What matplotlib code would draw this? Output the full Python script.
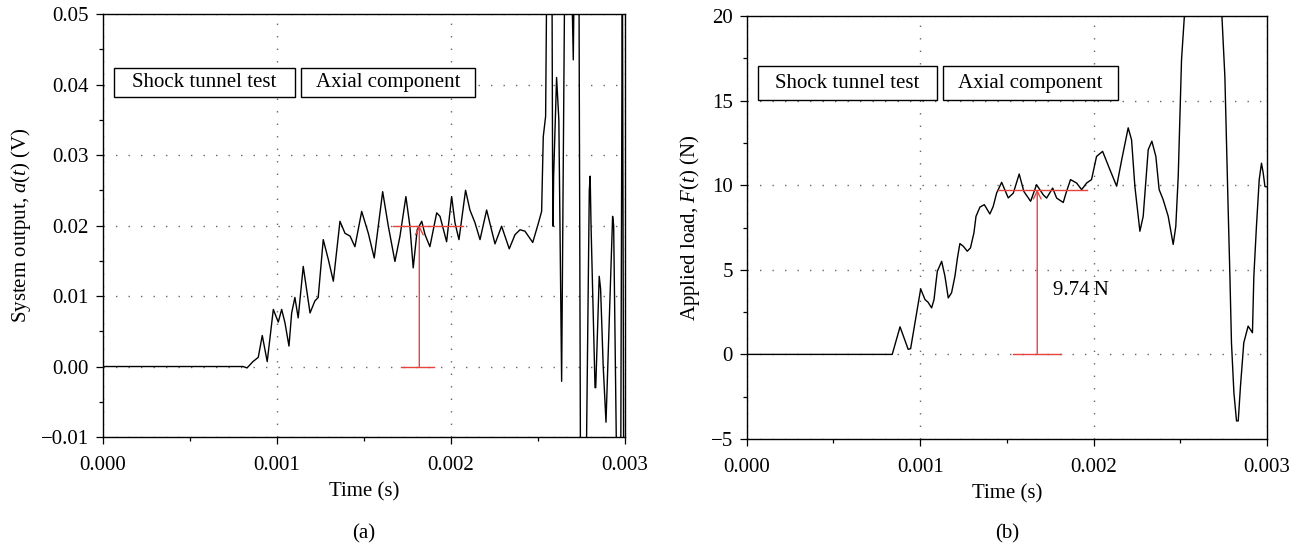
import matplotlib
matplotlib.use('Agg')
import matplotlib.pyplot as plt
from matplotlib.patches import Rectangle
from matplotlib.ticker import MultipleLocator, FuncFormatter

# time in ms (converted to s when drawn)
left_t = [0, 0.805, 0.828, 0.862, 0.8925, 0.9155, 0.944, 0.979, 1.0075, 1.027,
          1.046, 1.069, 1.0845, 1.103, 1.122, 1.151, 1.190, 1.218, 1.237, 1.266,
          1.295, 1.324, 1.362, 1.391, 1.42, 1.448, 1.487, 1.525, 1.559, 1.6075,
          1.640, 1.678, 1.707, 1.741, 1.764, 1.783, 1.806, 1.832, 1.851, 1.879,
          1.918, 1.937, 1.975, 2.004, 2.023, 2.046, 2.084, 2.109, 2.138, 2.167,
          2.205, 2.253, 2.291, 2.335, 2.368, 2.397, 2.425, 2.47, 2.502, 2.521,
          2.5305, 2.544, 2.552, 2.580, 2.584, 2.587, 2.59, 2.607, 2.62, 2.636,
          2.655, 2.69, 2.703, 2.71, 2.735, 2.745, 2.775, 2.795, 2.80, 2.805,
          2.828, 2.832, 2.852, 2.86, 2.875, 2.891, 2.929, 2.935, 2.955, 2.975,
          2.985, 2.993, 3.0]
left_v = [0, 0, -0.0002, 0.0007, 0.0013, 0.0044, 0.0007, 0.0081, 0.0063, 0.0081,
          0.0062, 0.0029, 0.0076, 0.0098, 0.0069, 0.0142, 0.0076, 0.0093, 0.0098, 0.018,
          0.0152, 0.0121, 0.0206, 0.0189, 0.0185, 0.017, 0.022, 0.0189, 0.0154, 0.0248,
          0.0199, 0.0149, 0.0185, 0.0241, 0.0199, 0.014, 0.0194, 0.0206, 0.0187, 0.017,
          0.0218, 0.0213, 0.0177, 0.0241, 0.0204, 0.018, 0.025, 0.0222, 0.0204, 0.018,
          0.0222, 0.0174, 0.0199, 0.0167, 0.0187, 0.0194, 0.0192, 0.0176, 0.0203, 0.022,
          0.0326, 0.0355, 0.06, 0.06, 0.028, 0.0199, 0.027, 0.041, 0.035, -0.0021,
          0.06, 0.06, 0.0435, 0.06, 0.06, -0.02, -0.02, 0.025, 0.027, 0.02,
          -0.003, -0.003, 0.0128, 0.011, 0.0, -0.0079, 0.0213, 0.02, -0.02, -0.02,
          0.06, -0.02, -0.02]

right_t = [0, 0.839, 0.884, 0.931, 0.945, 1.003, 1.028, 1.045, 1.066, 1.08,
           1.091, 1.099, 1.124, 1.143, 1.162, 1.181, 1.2005, 1.215, 1.229, 1.249,
           1.2715, 1.29, 1.31, 1.322, 1.345, 1.37, 1.402, 1.421, 1.441, 1.47,
           1.508, 1.537, 1.571, 1.598, 1.637, 1.671, 1.71, 1.729, 1.764, 1.787,
           1.825, 1.844, 1.867, 1.902, 1.931, 1.96, 1.988, 2.017, 2.052, 2.094,
           2.133, 2.162, 2.1995, 2.219, 2.238, 2.267, 2.286, 2.315, 2.336, 2.359,
           2.378, 2.401, 2.43, 2.459, 2.474, 2.488, 2.507, 2.526, 2.56, 2.63,
           2.70, 2.738, 2.757, 2.776, 2.786, 2.795, 2.809, 2.824, 2.834, 2.847,
           2.866, 2.891, 2.916, 2.924, 2.939, 2.955, 2.968, 2.978, 2.988, 3.0]
right_F = [0, 0, 1.63, 0.3, 0.34, 3.87, 3.24, 3.09, 2.75, 3.24,
           4.23, 4.91, 5.5, 4.62, 3.34, 3.64, 4.62, 5.7, 6.55, 6.39,
           6.1, 6.29, 7.18, 8.16, 8.71, 8.85, 8.3, 8.74, 9.54, 10.17,
           9.25, 9.53, 10.66, 9.63, 9.05, 10.03, 9.43, 9.24, 9.83, 9.24,
           8.98, 9.63, 10.33, 10.13, 9.74, 10.13, 10.33, 11.7, 12.0, 10.92,
           9.94, 11.5, 13.39, 12.68, 9.93, 7.28, 8.16, 12.1, 12.6, 11.7,
           9.74, 9.15, 8.17, 6.5, 7.57, 10.53, 17.4, 20.4, 26, 30,
           26, 20.4, 16.4, 8.55, 4.62, 0.69, -2.26, -3.93, -3.93, -1.87,
           0.69, 1.67, 1.28, 4.62, 7.57, 10.33, 11.3, 10.72, 9.92, 9.9]

# red marker: (t of arrow, level, top bar from/to, bottom bar from/to) in ms
left_mark = [1.818, 0.020, 1.667, 2.07, 1.712, 1.904]
right_mark = [1.675, 9.74, 1.45, 1.96, 1.537, 1.81]
box_labels = ['Shock tunnel test', 'Axial component']
xtick_vals = [0.0, 0.001, 0.002, 0.003]
xtick_labels = ['0.000', '0.001', '0.002', '0.003']

RED = '#e8423e'

plt.rcParams['font.family'] = ['Liberation Serif', 'DejaVu Serif']
plt.rcParams['font.size'] = 15
plt.rcParams['mathtext.fontset'] = 'custom'
plt.rcParams['mathtext.rm'] = 'Liberation Serif'
plt.rcParams['mathtext.it'] = 'Liberation Serif:italic'


def minus(fmt):
    return FuncFormatter(lambda v, p: (fmt % v).replace('-', '\u2212'))


def setupAxes(ax, ylim, ymajor, yminor, yfmt):
    ax.set_xlim(0, 0.003)
    ax.set_ylim(*ylim)
    ax.set_xticks(xtick_vals, xtick_labels)
    ax.xaxis.set_minor_locator(MultipleLocator(0.0005))
    ax.yaxis.set_major_locator(MultipleLocator(ymajor))
    ax.yaxis.set_minor_locator(MultipleLocator(yminor))
    ax.yaxis.set_major_formatter(minus(yfmt))
    ax.tick_params(which='major', direction='out', length=5, width=0.9, pad=5)
    ax.tick_params(axis='x', which='major', pad=9)
    ax.tick_params(which='minor', direction='out', length=3, width=0.9)
    ax.tick_params(which='both', top=False, right=False)
    for sp in ax.spines.values():
        sp.set_linewidth(1.0)
    ax.grid(True, which='major', color='#666666', linestyle=(0, (1, 8)), linewidth=1.0)
    ax.set_axisbelow(True)
    ax.set_xlabel('Time (s)', labelpad=5)


def addBoxes(ax, boxes):
    for (x0, x1, y0, y1), label in zip(boxes, box_labels):
        ax.add_patch(Rectangle((x0, y0), x1 - x0, y1 - y0, transform=ax.transAxes,
                               facecolor='white', edgecolor='black', linewidth=1.0, zorder=4))
        ax.text((x0 + x1) / 2, (y0 + y1) / 2, label, transform=ax.transAxes,
                ha='center', va='center', zorder=5)


def addMarker(ax, mark):
    t, level, a0, a1, b0, b1 = mark
    ax.plot([a0 * 1e-3, a1 * 1e-3], [level, level], color=RED, lw=1.0, zorder=3)
    ax.plot([b0 * 1e-3, b1 * 1e-3], [0, 0], color=RED, lw=1.0, zorder=3)
    ax.annotate('', xy=(t * 1e-3, level), xytext=(t * 1e-3, 0),
                arrowprops=dict(arrowstyle='->', color=RED, lw=1.0,
                                shrinkA=0, shrinkB=0, mutation_scale=14), zorder=3)


def main():
    fig = plt.figure(figsize=(13.05, 5.52), dpi=100)
    axL = fig.add_axes([0.0789, 0.2083, 0.4000, 0.7663])
    axR = fig.add_axes([0.5722, 0.2047, 0.3987, 0.7663])

    setupAxes(axL, (-0.01, 0.05), 0.01, 0.005, '%.2f')
    axL.plot([t * 1e-3 for t in left_t], left_v, color='black', lw=1.0, zorder=2)
    axL.set_ylabel('System output, $a(t)$ (V)', labelpad=6)
    addBoxes(axL, [(0.0211, 0.3678, 0.8038, 0.8723), (0.3793, 0.7126, 0.8038, 0.8723)])
    addMarker(axL, left_mark)

    setupAxes(axR, (-5, 20), 5, 2.5, '%d')
    axR.plot([t * 1e-3 for t in right_t], right_F, color='black', lw=1.0, zorder=2)
    axR.set_ylabel('Applied load, $F(t)$ (N)', labelpad=6)
    addBoxes(axR, [(0.0217, 0.3658, 0.8014, 0.8818), (0.3773, 0.7136, 0.8014, 0.8818)])
    addMarker(axR, right_mark)
    axR.text(1.766e-3, 3.8, '9.74\u2009N', ha='left', va='center')

    fig.text(0.2789, 0.032, '(a)', ha='center', va='center')
    fig.text(0.7716, 0.032, '(b)', ha='center', va='center')

    fig.savefig('out.png', dpi=100)


if __name__ == '__main__':
    main()
